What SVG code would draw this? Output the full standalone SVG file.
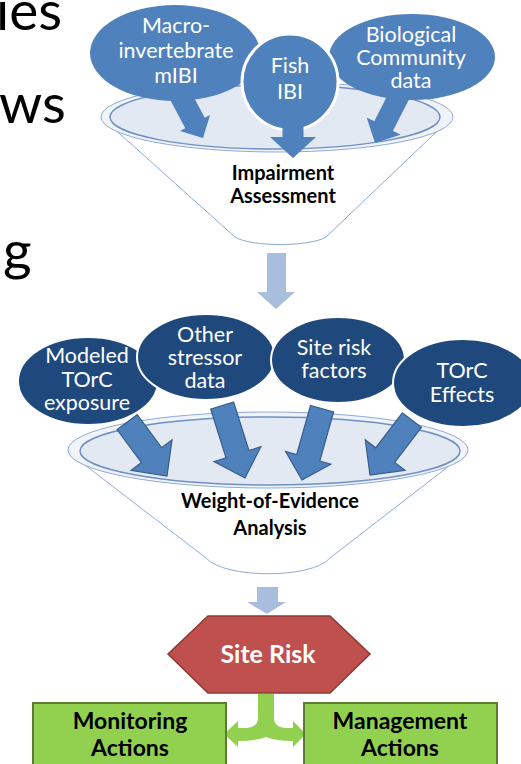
<svg xmlns="http://www.w3.org/2000/svg" width="521" height="764" viewBox="0 0 521 764">
<style>
text{font-family:Lato,"Liberation Sans",sans-serif;}
.big{font-size:55px;fill:#000;}
.wt{font-size:21.5px;fill:#fff;text-anchor:middle;}
.bt{font-size:20px;font-weight:bold;fill:#000;text-anchor:middle;}
.bt2{font-size:23px;font-weight:bold;fill:#000;text-anchor:middle;}
.funnel{fill:#fff;stroke:#8eaad6;stroke-width:1;}
.rimo{fill:#f0f3f8;stroke:#8eaad6;stroke-width:1;}
.rimi{fill:#e3e9f3;stroke:#6f90c4;stroke-width:1.5;}
.b1{fill:#4f81bd;}
.b2{fill:#1f497d;stroke:#fff;stroke-width:2;}
.ba{fill:#4f81bd;stroke:#385d8a;stroke-width:1.2;}
.la{fill:#a9bedd;}
</style>
<g id="bg-text">
<text class="big" x="-4" y="30">ies</text>
<text class="big" x="-1" y="123">ws</text>
<text class="big" x="3" y="270">g</text>
</g>
<g id="funnel1">
<path class="funnel" d="M101,117 L235,237 C250,247 310,247 326,237 L452,117 Z"/>
<ellipse class="rimo" cx="277" cy="117" rx="176" ry="35"/>
<ellipse class="rimi" cx="275" cy="117" rx="165" ry="32"/>
<text class="bt" x="283" y="180">Impairment</text>
<text class="bt" x="283" y="203">Assessment</text>
</g>
<g id="macro">
<polygon class="b1" points="-80,-11 -17,-11 -17,-17 0,0 -17,17 -17,11 -80,11" transform="translate(203,138) rotate(62)"/>
<ellipse class="b1" cx="175" cy="53" rx="85" ry="48"/>
<text class="wt" x="176" y="33">Macro-</text>
<text class="wt" x="176" y="58">invertebrate</text>
<text class="wt" x="176" y="83">mIBI</text>
</g>
<g id="bio">
<polygon class="b1" points="-70,-10.5 -19,-10.5 -19,-19 0,0 -19,19 -19,10.5 -70,10.5" transform="translate(375,143) rotate(117)"/>
<ellipse class="b1" cx="412" cy="57" rx="83" ry="43"/>
<text class="wt" x="411" y="42">Biological</text>
<text class="wt" x="411" y="65">Community</text>
<text class="wt" x="411" y="88">data</text>
</g>
<g id="fish">
<circle cx="290" cy="82" r="48" fill="#4f81bd" stroke="#fff" stroke-width="3"/>
<polygon class="b1" points="-60,-10.5 -21,-10.5 -21,-23 0,0 -21,23 -21,10.5 -60,10.5" transform="translate(293,158) rotate(90)"/>
<text class="wt" x="290" y="73">Fish</text>
<text class="wt" x="290" y="99">IBI</text>
</g>
<g id="connectors">
<polygon class="la" points="267,253 286,253 286,292 295,292 276,309 257,292 267,292"/>
<polygon class="la" points="257,587 278,587 278,602 286,602 267,614 247,602 257,602"/>
<path fill="#92d050" d="M258,694 L274,694 L274,718 Q274,727 286,728 L293,728 L293,721 L306,734 L293,747 L293,741 Q276,741 266,737 Q256,741 238,741 L238,747 L224,734 L238,721 L238,728 L246,728 Q258,727 258,718 Z"/>
</g>
<g id="funnel2">
<path class="funnel" d="M68,452 L206,558 C225,579 312,579 330,558 L467,452 Z"/>
<ellipse class="rimo" cx="268" cy="450" rx="200" ry="38"/>
<ellipse class="rimi" cx="270" cy="451" rx="190" ry="34"/>
<text class="bt" x="270" y="508">Weight-of-Evidence</text>
<text class="bt" x="270" y="535">Analysis</text>
</g>
<g id="modeled">
<ellipse class="b2" cx="88" cy="381" rx="70" ry="44"/>
<text class="wt" x="87" y="363">Modeled</text>
<text class="wt" x="87" y="387">TOrC</text>
<text class="wt" x="87" y="410">exposure</text>
</g>
<g id="other">
<ellipse class="b2" cx="206" cy="357" rx="69" ry="43"/>
<text class="wt" x="205" y="342">Other</text>
<text class="wt" x="205" y="365">stressor</text>
<text class="wt" x="205" y="388">data</text>
</g>
<g id="siterisk-factors">
<ellipse class="b2" cx="338" cy="360" rx="67" ry="43"/>
<text class="wt" x="334" y="355">Site risk</text>
<text class="wt" x="334" y="378">factors</text>
</g>
<g id="torc-effects">
<ellipse class="b2" cx="463" cy="383" rx="70" ry="44"/>
<text class="wt" x="462" y="378">TOrC</text>
<text class="wt" x="462" y="402">Effects</text>
</g>
<g id="woe-arrows">
<polygon class="ba" points="-67,-12.5 -26,-12.5 -26,-25.5 0,0 -26,25.5 -26,12.5 -67,12.5" transform="translate(167,476) rotate(53.5)"/>
<polygon class="ba" points="-76,-12 -25,-12 -25,-24.5 0,0 -25,24.5 -25,12 -76,12" transform="translate(245,478) rotate(72.5)"/>
<polygon class="ba" points="-74,-12 -23,-12 -23,-23.5 0,0 -23,23.5 -23,12 -74,12" transform="translate(302,480) rotate(105.7)"/>
<polygon class="ba" points="-69,-12 -25,-12 -25,-25 0,0 -25,25 -25,12 -69,12" transform="translate(370,475) rotate(127.4)"/>
</g>
<g id="site-risk">
<polygon points="168,654 208,616 330,616 370,654 330,693 208,693" fill="#c0504d" stroke="#8c3836" stroke-width="1.5"/>
<text x="268" y="663" font-size="25" font-weight="bold" fill="#fff" text-anchor="middle">Site Risk</text>
</g>
<g id="monitoring">
<rect x="33" y="703" width="193" height="72" fill="#92d050" stroke="#5f7a32" stroke-width="2"/>
<text class="bt2" x="130" y="729">Monitoring</text>
<text class="bt2" x="130" y="756">Actions</text>
</g>
<g id="management">
<rect x="304" y="703" width="193" height="72" fill="#92d050" stroke="#5f7a32" stroke-width="2"/>
<text class="bt2" x="400" y="729">Management</text>
<text class="bt2" x="400" y="756">Actions</text>
</g>
</svg>
